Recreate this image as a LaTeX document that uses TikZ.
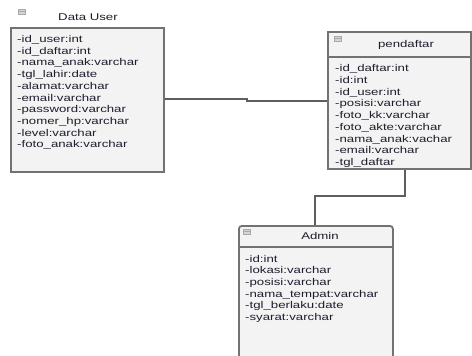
\documentclass[tikz,border=0pt]{standalone}
\usepackage{fontspec}
\setmainfont{Liberation Sans}[FakeStretch=1.35]
\begin{document}
\begin{tikzpicture}[x=1pt,y=-1pt,
  classbox/.style={draw=boxgray,line width=1.8pt,fill=boxfill,inner sep=0pt,anchor=north west},
  attr/.style={anchor=base west,inner sep=0pt,text=txt,font=\fontsize{9.8}{12}\selectfont},
  title/.style={inner sep=0pt,text=txt,font=\fontsize{9.8}{12}\selectfont},
  link/.style={draw=linkgray,line width=1.8pt},
  icon/.style={draw=icongray,fill=iconfill,line width=0.5pt,minimum width=7pt,minimum height=5pt,inner sep=0pt}
]
\definecolor{boxgray}{HTML}{727272}
\definecolor{boxfill}{HTML}{F3F3F3}
\definecolor{linkgray}{HTML}{5E5E5E}
\definecolor{txt}{HTML}{1E1E2E}
\definecolor{icongray}{HTML}{A8A8A8}
\definecolor{iconfill}{HTML}{D6D6D6}
\useasboundingbox (0,0) rectangle (472,356);
\clip (0,0) rectangle (472,356);

% ---- Data User ----
\node[icon] (iconU) at (21.5,11.5) {};
\draw[icongray,line width=0.6pt] (iconU.west) -- (iconU.east);
\node[title] (tU) at (88,17) {Data User};
\node[classbox,minimum width=153pt,minimum height=144pt] (user) at (10,27) {};
\foreach \t [count=\i from 0] in {-id\_user:int,-id\_daftar:int,-nama\_anak:varchar,-tgl\_lahir:date,-alamat:varchar,-email:varchar,-password:varchar,-nomer\_hp:varchar,-level:varchar,-foto\_anak:varchar}
  \node[attr] (u\i) at (17,42.5+11.7*\i) {\t};

% ---- pendaftar ----
\node[classbox,minimum width=143pt,minimum height=137pt] (daftar) at (327,31) {};
\draw[boxgray,line width=1.8pt] (327,57) -- (470,57);
\node[icon] (iconD) at (337.5,38.5) {};
\draw[icongray,line width=0.6pt] (iconD.west) -- (iconD.east);
\node[title] (tD) at (406,45) {pendaftar};
\foreach \t [count=\i from 0] in {-id\_daftar:int,-id:int,-id\_user:int,-posisi:varchar,-foto\_kk:varchar,-foto\_akte:varchar,-nama\_anak:vachar,-email:varchar,-tgl\_daftar}
  \node[attr] (d\i) at (335,71.5+11.75*\i) {\t};

% ---- Admin ----
\node[classbox,rounded corners=3pt,minimum width=154pt,minimum height=150pt] (admin) at (238,225) {};
\draw[boxgray,line width=1.8pt] (238,247) -- (392,247);
\node[icon] (iconA) at (246.5,231.5) {};
\draw[icongray,line width=0.6pt] (iconA.west) -- (iconA.east);
\node[title] (tA) at (320,236) {Admin};
\foreach \t [count=\i from 0] in {-id:int,-lokasi:varchar,-posisi:varchar,-nama\_tempat:varchar,-tgl\_berlaku:date,-syarat:varchar}
  \node[attr] (a\i) at (245,262+11.7*\i) {\t};

% ---- connectors ----
\coordinate (j1) at (247,99);
\coordinate (j2) at (247,101);
\draw[link] (user.east |- j1) -- (j1) -- (j2) -- (daftar.west |- j2);
\coordinate (k1) at (405,196);
\coordinate (k2) at (315,196);
\draw[link] (daftar.south -| k1) -- (k1) -- (k2) -- (admin.north -| k2);
\end{tikzpicture}
\end{document}
